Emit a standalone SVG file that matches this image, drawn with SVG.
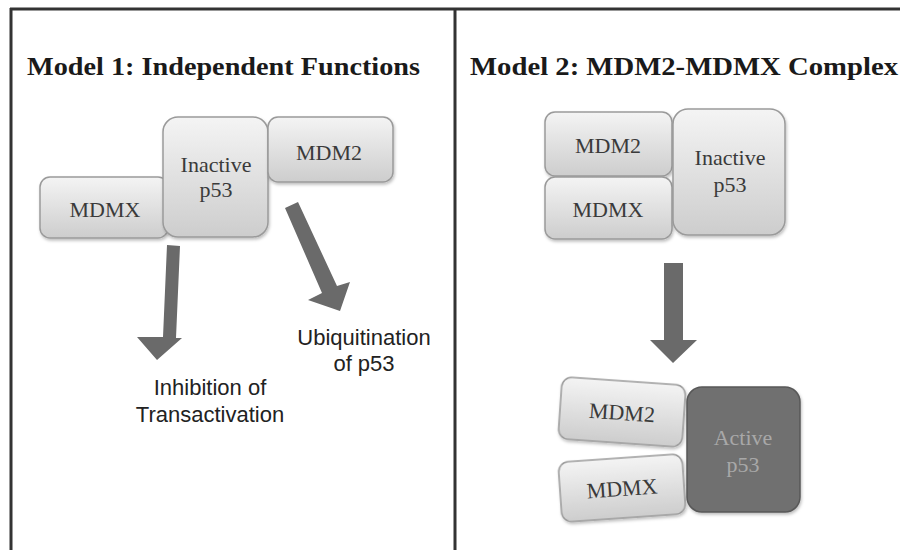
<svg xmlns="http://www.w3.org/2000/svg" width="900" height="550" viewBox="0 0 900 550">
<defs>
<linearGradient id="g" x1="0" y1="0" x2="0" y2="1">
<stop offset="0" stop-color="#f4f4f4"/>
<stop offset="1" stop-color="#cdcdcd"/>
</linearGradient>
<filter id="sh" x="-10%" y="-10%" width="130%" height="130%">
<feDropShadow dx="1" dy="2" stdDeviation="1.5" flood-color="#000" flood-opacity="0.25"/>
</filter>
</defs>
<style>
.frame{stroke:#333;stroke-width:3;fill:none}
.box{fill:url(#g);stroke:#9a9a9a;stroke-width:1.5;filter:url(#sh)}
.dark{fill:#6f6f6f;stroke:#585858;stroke-width:1.5;filter:url(#sh)}
.title{font-family:"Liberation Serif",serif;font-weight:bold;font-size:26px;fill:#1a1a1a}
.lbl{font-family:"Liberation Serif",serif;font-size:22px;fill:#3a3a3a;text-anchor:middle}
.lblw{font-family:"Liberation Serif",serif;font-size:22px;fill:#a8a8a8;text-anchor:middle}
.out{font-family:"Liberation Sans",sans-serif;font-size:22px;fill:#222;text-anchor:middle}
.arrow{fill:#6a6a6a}
</style>
<rect width="900" height="550" fill="#fff"/>
<g id="frame">
<line class="frame" x1="10" y1="9" x2="900" y2="9"/>
<line class="frame" x1="11" y1="8" x2="11" y2="550"/>
<line class="frame" x1="455" y1="8" x2="455" y2="550"/>
</g>
<text class="title" x="27" y="75" textLength="393" lengthAdjust="spacingAndGlyphs">Model 1: Independent Functions</text>
<text class="title" x="470" y="75" textLength="428" lengthAdjust="spacingAndGlyphs">Model 2: MDM2-MDMX Complex</text>
<g id="connectors">
<polygon class="arrow" points="167,245 180,246 176,338 182,338 157,360 137,337 163,337"/>
<polygon class="arrow" points="285,208 298,202 337,286 350,282 340,311 308,300 322,293"/>
<polygon class="arrow" points="664,263 683,263 683,340 697,340 673,363 650,340 664,340"/>
</g>
<g id="m1-mdmx"><rect class="box" x="40" y="177" width="128" height="61" rx="10"/><text class="lbl" x="105" y="217">MDMX</text></g>
<g id="m1-p53"><rect class="box" x="163" y="117" width="105" height="120" rx="15"/><text class="lbl" x="216" y="172">Inactive</text><text class="lbl" x="216" y="197">p53</text></g>
<g id="m1-mdm2"><rect class="box" x="268" y="117" width="125" height="65" rx="10"/><text class="lbl" x="329" y="160">MDM2</text></g>
<g id="m1-ubq"><text class="out" x="364" y="345">Ubiquitination</text><text class="out" x="364" y="371">of p53</text></g>
<g id="m1-inh"><text class="out" x="210" y="395">Inhibition of</text><text class="out" x="210" y="422">Transactivation</text></g>
<g id="m2-mdm2"><rect class="box" x="545" y="112" width="127" height="64" rx="10"/><text class="lbl" x="608" y="153">MDM2</text></g>
<g id="m2-mdmx"><rect class="box" x="545" y="177" width="127" height="62" rx="10"/><text class="lbl" x="608" y="217">MDMX</text></g>
<g id="m2-p53"><rect class="box" x="673" y="109" width="112" height="126" rx="15"/><text class="lbl" x="730" y="165">Inactive</text><text class="lbl" x="730" y="192">p53</text></g>
<g id="m2-mdm2b" transform="rotate(4 622 412)"><rect class="box" x="560" y="381" width="124" height="62" rx="10"/><text class="lbl" x="622" y="420">MDM2</text></g>
<g id="m2-mdmxb" transform="rotate(-4 622 488)"><rect class="box" x="560" y="458" width="124" height="60" rx="10"/><text class="lbl" x="622" y="496">MDMX</text></g>
<g id="m2-active"><rect class="dark" x="687" y="387" width="113" height="125" rx="15"/><text class="lblw" x="743" y="445">Active</text><text class="lblw" x="743" y="472">p53</text></g>
</svg>
